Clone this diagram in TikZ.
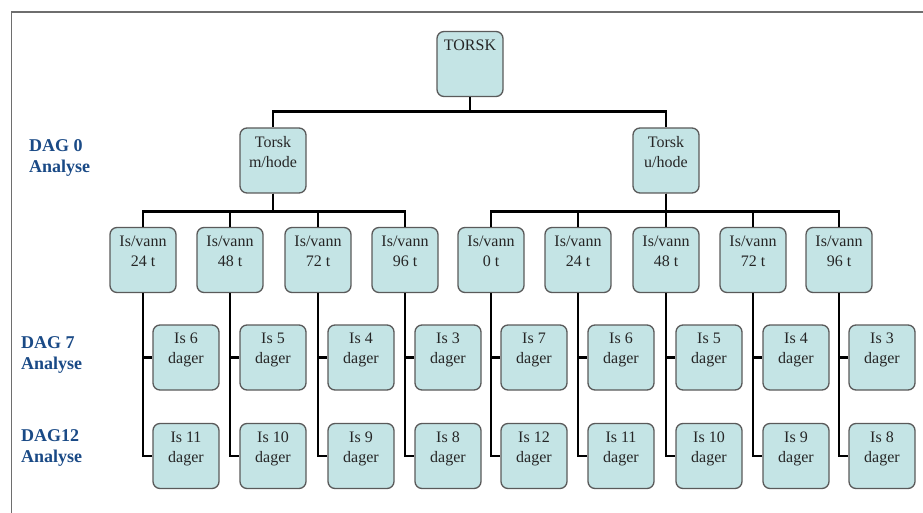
\documentclass[tikz,border=0pt]{standalone}
\usepackage{fontspec}
\setmainfont{Liberation Serif}
\usepackage{tikz}

\definecolor{boxfill}{RGB}{196,228,229}
\definecolor{boxline}{RGB}{90,90,90}
\definecolor{dagblue}{RGB}{26,74,134}
\definecolor{framegray}{RGB}{110,110,110}

\newcommand{\boxtext}[1]{\parbox[c][61pt][t]{64pt}{\centering\vspace*{6pt}#1}}

\tikzset{
	box/.style={draw=boxline, fill=boxfill, line width=1.3pt, rounded corners=7pt,
		minimum width=66pt, minimum height=65pt, inner xsep=1pt, inner ysep=2pt,
		font=\fontsize{16}{20}\selectfont, text=black!85},
	conn/.style={line width=2.8pt, black},
	daglabel/.style={anchor=north west, inner sep=0pt, align=left,
		font=\fontsize{18}{21}\selectfont\bfseries, text=dagblue}
}

\begin{document}
\begin{tikzpicture}[x=1pt,y=-1pt]
			\useasboundingbox (0,0) rectangle (923,513);
			\draw[framegray, line width=1.3pt] (923,12) -- (11.5,12) -- (11.5,513);
			% top
			\node[box] (torsk) at (470,64) {\boxtext{TORSK}};
			\node[box] (mhode) at (273,160.5) {\boxtext{Torsk\\m/hode}};
			\node[box] (uhode) at (666,160.5) {\boxtext{Torsk\\u/hode}};
			\draw[conn] (torsk.south) -- ++(0,14) -| (mhode.north);
			\draw[conn] (torsk.south) -- ++(0,14) -| (uhode.north);
			% med hode
			\foreach \x/\h/\a/\b [count=\i] in {143/24/6/11, 230/48/5/10, 318/72/4/9, 405/96/3/8}{
				\node[box] (mv\i) at (\x,260) {\boxtext{Is/vann\\\h\ t}};
				\node[box] (ma\i) at ({\x+43},357.5) {\boxtext{Is \a\\dager}};
				\node[box] (mb\i) at ({\x+43},456) {\boxtext{Is \b\\dager}};
				\draw[conn] (mhode.south) -- ++(0,18) -| (mv\i.north);
				\draw[conn] (mv\i.south) |- (ma\i.west);
				\draw[conn] (mv\i.south) |- (mb\i.west);
			}
			% uten hode
			\foreach \x/\h/\a/\b [count=\i] in {491/0/7/12, 578/24/6/11, 666/48/5/10, 753/72/4/9, 839/96/3/8}{
				\node[box] (uv\i) at (\x,260) {\boxtext{Is/vann\\\h\ t}};
				\node[box] (ua\i) at ({\x+43},357.5) {\boxtext{Is \a\\dager}};
				\node[box] (ub\i) at ({\x+43},456) {\boxtext{Is \b\\dager}};
				\draw[conn] (uhode.south) -- ++(0,18) -| (uv\i.north);
				\draw[conn] (uv\i.south) |- (ua\i.west);
				\draw[conn] (uv\i.south) |- (ub\i.west);
			}
			% analyser
			\node[daglabel] (dag0) at (29,139.5) {DAG 0\\Analyse};
			\node[daglabel] (dag7) at (21,336) {DAG 7\\Analyse};
			\node[daglabel] (dag12) at (21,429) {DAG12\\Analyse};
		\end{tikzpicture}
\end{document}
